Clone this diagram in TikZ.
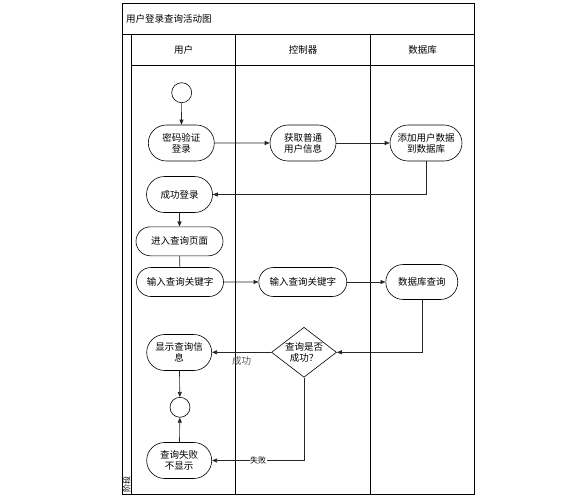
\documentclass[tikz,border=0pt]{standalone}
\usepackage{fontspec}
\setmainfont{Noto Sans CJK SC}
\usetikzlibrary{arrows.meta,shapes.geometric,shapes.misc}
\begin{document}
\begin{tikzpicture}[x=1pt,y=-1pt,
  frame/.style={draw=black,line width=0.8pt},
  act/.style={draw=black,line width=0.6pt,rounded rectangle,inner sep=0pt,align=center,font=\fontsize{9.5}{11}\selectfont},
  dot/.style={draw=black,line width=0.6pt,circle,minimum size=20pt,inner sep=0pt},
  flow/.style={draw=black!85,line width=0.6pt,-{Triangle[length=5pt,width=4pt]}},
  plain/.style={draw=black!85,line width=0.6pt},
  hdr/.style={font=\fontsize{9.5}{11}\selectfont,inner sep=0pt}
]
\useasboundingbox (0,0) rectangle (570,503);
% swimlane frame
\draw[frame] (122.3,3.3) rectangle (474.7,494.3);
\draw[frame] (122.3,34) -- (474.7,34);
\draw[frame] (131.3,34) -- (131.3,494.3);
\draw[frame] (131.3,65.7) -- (474.7,65.7);
\draw[frame] (235.7,34) -- (235.7,494.3);
\draw[frame] (370.3,34) -- (370.3,494.3);
\node[hdr,anchor=west] (title) at (126,18.5) {用户登录查询活动图};
\node[hdr] (h1) at (183.5,50) {用户};
\node[hdr] (h2) at (303,50) {控制器};
\node[hdr] (h3) at (422.5,50) {数据库};
\node[inner sep=0pt,font=\fontsize{8}{9}\selectfont,rotate=90] (phase) at (126.8,484) {阶段};
% nodes
\node[dot] (start) at (181.7,92.7) {};
\node[act,minimum width=66pt,minimum height=36pt] (n1) at (181.3,143) {密码验证\\登录};
\node[act,minimum width=66pt,minimum height=36pt] (n2) at (303,143) {获取普通\\用户信息};
\node[act,minimum width=72pt,minimum height=36pt] (n3) at (426,143) {添加用户数据\\到数据库};
\node[act,minimum width=66pt,minimum height=36pt] (n4) at (179.5,194.5) {成功登录};
\node[act,minimum width=87pt,minimum height=29pt] (n5) at (179.5,241.3) {进入查询页面};
\node[act,minimum width=87pt,minimum height=29pt] (n6) at (180,282) {输入查询关键字};
\node[act,minimum width=88pt,minimum height=29pt] (n7) at (302.8,282) {输入查询关键字};
\node[act,minimum width=72pt,minimum height=35pt] (n8) at (421.8,282) {数据库查询};
\node[draw=black,line width=0.6pt,diamond,minimum width=65pt,minimum height=50pt,inner sep=0pt] (d) at (304,352.3) {};
\node[align=center,inner sep=0pt,font=\fontsize{9.5}{11}\selectfont] (dt) at (304,352.3) {查询是否\\成功？};
\node[act,minimum width=65pt,minimum height=36pt] (n9) at (179.2,352.5) {显示查询信\\息};
\node[dot] (end) at (180,407.3) {};
\node[act,minimum width=65pt,minimum height=36pt] (n10) at (179.2,460.5) {查询失败\\不显示};
% connectors
\draw[flow] (start) -- (n1);
\draw[flow] (n1) -- (n2);
\draw[flow] (n2.east) -- (n2.east -| n3.west);
\draw[flow] (n3.south) |- (n4.east);
\draw[flow] (n4) -- (n5);
\draw[plain] (n5) -- (n6);
\draw[flow] (n6) -- (n7);
\draw[flow] (n7.east) -- (n7.east -| n8.west);
\draw[flow] (n8.south) |- (d.east);
\draw[flow] (d.west) -- node[pos=0.5,below=3pt,inner sep=1pt,text=black!65,font=\fontsize{9.5}{11}\selectfont] (lok) {成功} (d.west -| n9.east);
\draw[flow] (n9) -- (end);
\draw[flow] (n10) -- (end);
\draw[flow] (d.south) |- node[pos=0.75,fill=white,inner sep=0.5pt,font=\fontsize{8}{9}\selectfont] (lfail) {失败} (n10.east);
\end{tikzpicture}
\end{document}
